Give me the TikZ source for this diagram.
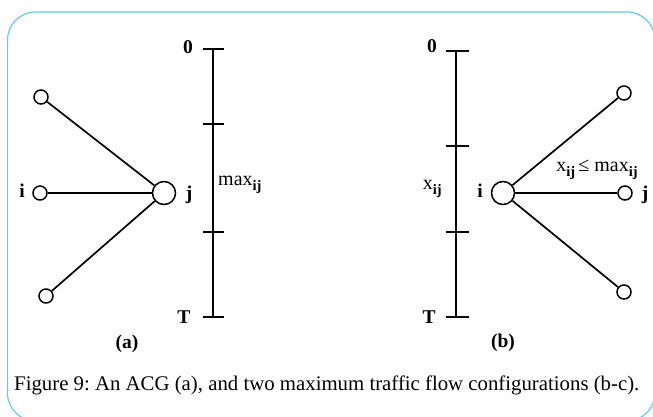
\documentclass[tikz,border=0pt]{standalone}
\usepackage{fontspec}
\setmainfont{Liberation Serif}
\definecolor{framecyan}{RGB}{95,205,240}
\newcommand{\sbij}{\raisebox{-0.55ex}{\fontsize{14.5}{14.5}\selectfont\bfseries ij}}
\frenchspacing
\begin{document}
\begin{tikzpicture}[x=1pt,y=-1pt,
  small/.style={circle,draw,line width=1.5pt,minimum size=14pt,inner sep=0pt},
  big/.style={circle,draw,line width=1.5pt,minimum size=23pt,inner sep=0pt},
  edge/.style={line width=1.7pt},
  axis/.style={line width=1.7pt},
  tick/.style={line width=2.2pt},
  lbl/.style={font=\fontsize{19.5}{19.5}\selectfont\bfseries,inner sep=0pt},
  txt/.style={font=\fontsize{20}{20}\selectfont,inner sep=0pt}]
\useasboundingbox (0,0) rectangle (653,416);
\draw[framecyan,line width=1.2pt,rounded corners=28pt] (7.5,12) rectangle (655,421);

% ---- (a) ----
\node[small] (a1) at (41,97) {};
\node[small] (ai) at (40,193) {};
\node[small] (a3) at (46,296) {};
\node[big] (aj) at (164,193) {};
\draw[edge] (a1) -- (aj);
\draw[edge] (ai) -- (aj);
\draw[edge] (a3) -- (aj);
\node[lbl] (la-i) at (22,191) {i};
\node[lbl] (la-j) at (189,195) {j};

\coordinate (at) at (213,49);
\coordinate (ab) at (213,317);
\draw[axis] (at) -- (ab);
\foreach \yy in {49,124,232,317} \draw[tick] (202.5,\yy) -- (223.5,\yy);
\node[lbl] (a0) at (188,47) {0};
\node[lbl] (aT) at (184,317) {T};
\node[txt,anchor=west] (amax) at (218,185) {max\sbij};
\node[lbl] (alab) at (127,344) {(a)};

% ---- (b) ----
\node[big] (bi) at (503,193) {};
\node[small] (b1) at (624,93) {};
\node[small] (bj) at (625,193) {};
\node[small] (b3) at (624,292) {};
\draw[edge] (bi) -- (b1);
\draw[edge] (bi) -- (bj);
\draw[edge] (bi) -- (b3);
\node[lbl] (lb-i) at (480,191) {i};
\node[lbl] (lb-j) at (645,195) {j};

\coordinate (bt) at (456,51);
\coordinate (bb) at (456,317);
\draw[axis] (bt) -- (bb);
\foreach \yy in {51,146,232,317} \draw[tick] (445.5,\yy) -- (468.5,\yy);
\node[lbl] (b0) at (432,46) {0};
\node[lbl] (bT) at (429,317) {T};
\node[txt,anchor=east] (bx) at (442,189) {x\sbij};
\node[txt] (bxm) at (597,170) {x\sbij\,≤ max\sbij};
\node[lbl] (blab) at (503,343) {(b)};

% ---- caption ----
\node[anchor=base west,inner sep=0pt,font=\fontsize{20.8}{20.8}\selectfont] (cap) at (14,390)
  {Figure 9: An ACG (a), and two maximum traffic flow configurations (b-c).};
\end{tikzpicture}
\end{document}
